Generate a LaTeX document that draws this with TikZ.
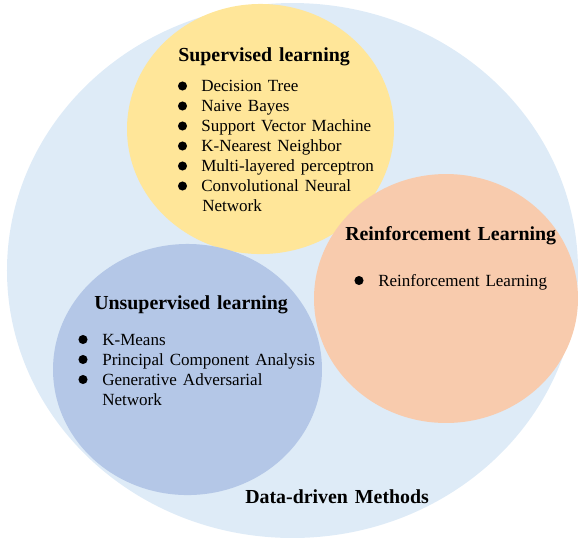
\documentclass[tikz,border=0pt]{standalone}
\usepackage{fontspec}
\setmainfont{Liberation Serif}[WordSpace=1.4]
\usetikzlibrary{shapes.geometric}
\definecolor{bigblue}{HTML}{DEEBF7}
\definecolor{supy}{HTML}{FFE699}
\definecolor{rlor}{HTML}{F8CBAD}
\definecolor{unsb}{HTML}{B4C7E7}
\tikzset{
  blob/.style={ellipse, draw=none, inner sep=0pt},
  ttl/.style={anchor=base west, inner sep=0pt, font=\fontsize{14}{16}\selectfont\bfseries},
  itm/.style={anchor=base west, inner sep=0pt, font=\fontsize{12}{14}\selectfont},
  dot/.style={circle, fill=black, inner sep=0pt, minimum size=6.4pt},
}
\begin{document}
\begin{tikzpicture}[x=0.7042pt, y=-0.7042pt]
\useasboundingbox (0,0) rectangle (578,541);
% circles
\node[blob, fill=bigblue, minimum width=402.1pt, minimum height=376.7pt] (big) at (292.5,270.5) {};
\node[blob, fill=supy, minimum width=188.0pt, minimum height=176.1pt] (sup) at (260.5,129) {};
\node[blob, fill=rlor, minimum width=185.9pt, minimum height=175.3pt] (rl) at (446,298.5) {};
\node[blob, fill=unsb, minimum width=189.4pt, minimum height=176.8pt] (uns) at (187.5,369.5) {};
% supervised
\node[ttl] (supt) at (178,61) {Supervised learning};
\node[itm] (s1) at (201,91.5) {Decision Tree};
\node[itm] (s2) at (201,111.5) {Naive Bayes};
\node[itm] (s3) at (201,131.5) {Support Vector Machine};
\node[itm] (s4) at (201,151.5) {K-Nearest Neighbor};
\node[itm] (s5) at (201,171.5) {Multi-layered perceptron};
\node[itm] (s6) at (201,191.5) {Convolutional Neural};
\node[itm] (s7) at (202,211.5) {Network};
\node[dot] (d1) at (182.5,86) {};
\node[dot] (d2) at (182.5,106) {};
\node[dot] (d3) at (182.5,126) {};
\node[dot] (d4) at (182.5,146) {};
\node[dot] (d5) at (182.5,166) {};
\node[dot] (d6) at (182.5,186) {};
% reinforcement
\node[ttl] (rlt) at (345,240) {Reinforcement Learning};
\node[itm] (r1) at (378,286) {Reinforcement Learning};
\node[dot] (rd1) at (359,280.5) {};
% unsupervised
\node[ttl] (unt) at (94,309) {Unsupervised learning};
\node[itm] (u1) at (102,345) {K-Means};
\node[itm] (u2) at (102,365) {Principal Component Analysis};
\node[itm] (u3) at (102,385) {Generative Adversarial};
\node[itm] (u4) at (102,405) {Network};
\node[dot] (ud1) at (83,339.5) {};
\node[dot] (ud2) at (83,359.5) {};
\node[dot] (ud3) at (83,379.5) {};
% outer label
\node[ttl] (ddm) at (245,503) {Data-driven Methods};
\end{tikzpicture}
\end{document}
